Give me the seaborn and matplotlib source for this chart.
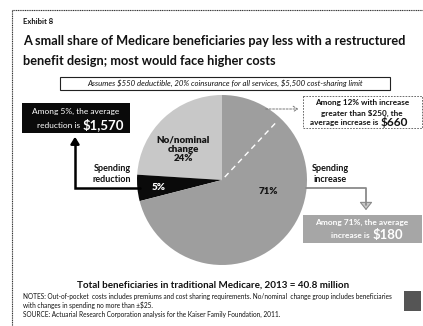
import matplotlib
matplotlib.use("Agg")
import matplotlib.pyplot as plt
import seaborn as sns
import numpy as np
from matplotlib.patches import Rectangle, FancyArrowPatch

# ---- data ----
categories = ["No/nominal change", "Spending reduction", "Spending increase"]
shares = [24, 5, 71]
increase_gt250_share = 12
avg_reduction = "$1,570"
avg_increase_gt250 = "$660"
avg_increase_all = "$180"
total_benef = "40.8 million"

sns.set_theme(style="white")
plt.rcParams['font.family'] = ['Lato', 'DejaVu Sans']
plt.rcParams['text.parse_math'] = False

W, H = 423, 326
fig = plt.figure(figsize=(W / 100, H / 100), dpi=100)
fig.patch.set_facecolor("white")

# pie axes: full figure, 1 data unit = 1 pixel, y upward
cx, cy, r = 222, 180, 85
pax = fig.add_axes([0, 0, 1, 1])
pax.set_zorder(1)
colors = ["#c8c8c8", "#0a0a0a", "#9e9e9e"]
pax.pie(shares, colors=colors, startangle=90, counterclock=True,
        center=(cx, H - cy), radius=r, frame=True,
        wedgeprops=dict(linewidth=0))
pax.set_xlim(0, W)
pax.set_ylim(0, H)
pax.set_aspect("auto")
pax.axis("off")
ang = np.deg2rad(90 - increase_gt250_share / 100 * 360)
pax.plot([cx + 4 * np.cos(ang), cx + 0.95 * r * np.cos(ang)],
         [H - cy + 4 * np.sin(ang), H - cy + 0.95 * r * np.sin(ang)],
         color="white", lw=1, ls=(0, (4, 3)))

# overlay axes in pixel coords (y downward)
ax = fig.add_axes([0, 0, 1, 1])
ax.set_zorder(2)
ax.set_xlim(0, W)
ax.set_ylim(H, 0)
ax.axis("off")

# frame
ax.plot([12, 12], [H, 10], color="#333333", lw=0.8, ls=(0, (1, 0.6)))
ax.plot([12, W], [10, 10], color="#333333", lw=0.8, ls=(0, (1, 0.6)))

# titles
ax.text(23, 22, "Exhibit 8", fontsize=5.5, fontweight="bold", va="center", ha="left", color="#111111")
ax.text(23, 41, "A small share of Medicare beneficiaries pay less with a restructured",
        fontsize=9.2, fontweight="bold", va="center", ha="left", color="#111111")
ax.text(23, 61, "benefit design; most would face higher costs",
        fontsize=9.2, fontweight="bold", va="center", ha="left", color="#111111")

# assumption box
ax.add_patch(Rectangle((60, 77), 330, 13, fill=False, ec="#222222", lw=0.8))
ax.text(225, 83.5, "Assumes $550 deductible, 20% coinsurance for all services, $5,500 cost-sharing limit",
        fontsize=5.6, style="italic", ha="center", va="center", color="#111111")

# black box left
ax.add_patch(Rectangle((22, 103), 108, 30, fc="#0a0a0a", ec="none"))
ax.text(76, 111, "Among 5%, the average", fontsize=6, color="white", ha="center", va="center")
ax.text(80, 125, "reduction is", fontsize=6, color="white", ha="right", va="center")
ax.text(83, 124.5, avg_reduction, fontsize=9.5, fontweight="bold", color="white", ha="left", va="center")

# arrow from black slice to box
ax.plot([140, 75, 75], [188, 188, 140], color="black", lw=1.8, solid_joinstyle="miter")
ax.add_patch(FancyArrowPatch((75, 145), (75, 134), arrowstyle="-|>,head_length=4,head_width=2.5",
                             color="black", lw=1.8, mutation_scale=1))
ax.text(112, 174, "Spending\nreduction", fontsize=6.5, fontweight="bold", ha="center", va="center",
        linespacing=1.4, color="#111111")

# pie labels
ax.text(183, 149, "No/nominal\nchange\n24%", fontsize=7, fontweight="heavy", ha="center", va="center",
        linespacing=1.05, color="#151515")
ax.text(159, 188, "5%", fontsize=7, fontweight="heavy", ha="center", va="center", color="white")
ax.text(268, 192, "71%", fontsize=7, fontweight="heavy", ha="center", va="center", color="#151515")

# top right dashed box
ax.add_patch(Rectangle((303, 96), 119, 32, fill=False, ec="#555555", lw=0.6, ls=(0, (2, 1.5))))
ax.text(362, 103, "Among 12% with increase", fontsize=5.9, fontweight="bold", ha="center", va="center", color="#111111")
ax.text(362, 113, "greater than $250, the", fontsize=5.9, fontweight="bold", ha="center", va="center", color="#111111")
ax.text(378, 123, "average increase is", fontsize=5.9, fontweight="bold", ha="right", va="center", color="#111111")
ax.text(381, 122, avg_increase_gt250, fontsize=8.5, fontweight="bold", ha="left", va="center", color="#111111")
ax.add_patch(FancyArrowPatch((263, 109), (301, 109), arrowstyle="->,head_length=3,head_width=2",
                             color="#777777", lw=0.7, ls=(0, (2, 1.5)), mutation_scale=1))

# spending increase
ax.text(330, 174, "Spending\nincrease", fontsize=6.5, fontweight="bold", ha="center", va="center",
        linespacing=1.4, color="#111111")
ax.plot([306, 366, 366], [188, 188, 205], color="#8a8a8a", lw=1.3)
ax.add_patch(FancyArrowPatch((366, 200), (366, 213), arrowstyle="-|>,head_length=5,head_width=4",
                             fc="#c8c8c8", ec="#8a8a8a", lw=0.8, mutation_scale=1))
ax.add_patch(Rectangle((303, 215), 119, 28, fc="#a6a6a6", ec="none"))
ax.text(362, 222, "Among 71%, the average", fontsize=6, fontweight="bold", ha="center", va="center", color="white")
ax.text(370, 236, "increase is", fontsize=6, fontweight="bold", ha="right", va="center", color="white")
ax.text(373, 235, avg_increase_all, fontsize=9.5, fontweight="bold", ha="left", va="center", color="white")

# totals
ax.text(213, 285, "Total beneficiaries in traditional Medicare, 2013 = " + total_benef,
        fontsize=7.1, fontweight="bold", ha="center", va="center", color="#111111")

# notes
ax.text(23, 297, "NOTES: Out-of-pocket  costs includes premiums and cost sharing requirements. No/nominal  change group includes beneficiaries",
        fontsize=4.7, ha="left", va="center", color="#111111")
ax.text(23, 305, "with changes in spending no more than \u00b1$25.",
        fontsize=4.7, ha="left", va="center", color="#111111")
ax.text(23, 314, "SOURCE: Actuarial Research Corporation analysis for the Kaiser Family Foundation, 2011.",
        fontsize=4.7, ha="left", va="center", color="#111111")

# small code square at bottom right
ax.add_patch(Rectangle((404, 291), 17, 20, fc="#555555", ec="none"))

fig.savefig("out.png", dpi=100, facecolor="white")
